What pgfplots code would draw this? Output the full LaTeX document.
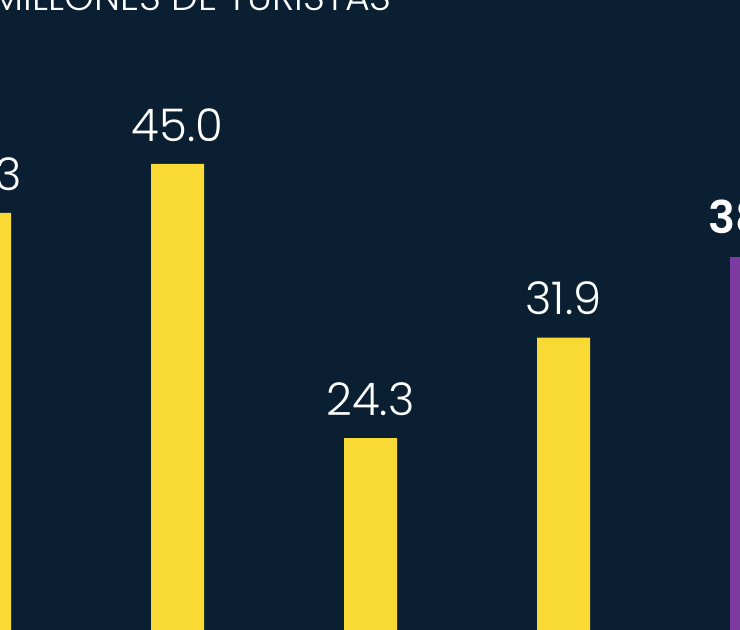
\documentclass[border=0pt]{standalone}
\usepackage{fontspec}
\setmainfont{Poppins}[UprightFont=* Light, BoldFont=* SemiBold]
\usepackage{pgfplots}
\pgfplotsset{compat=1.18}
\definecolor{bg}{HTML}{0B1F33}
\definecolor{barY}{HTML}{F9D933}
\definecolor{barP}{HTML}{7D3AA0}
\begin{document}
\begin{tikzpicture}
 \path[use as bounding box] (0,0) rectangle (370pt,315pt);
 \clip (0,0) rectangle (370pt,315pt);
 \fill[bg] (0,0) rectangle (370pt,315pt);
 \begin{axis}[
  at={(0,0)}, anchor=south west,
  scale only axis,
  width=370pt, height=315pt,
  hide axis,
  clip=false,
  xmin=0.0803, xmax=3.9145,
  ymin=9.83, ymax=57.37,
  ybar, bar width=26.5pt, bar shift=0pt,
  nodes near coords,
  /pgf/number format/.cd, fixed, fixed zerofill, precision=1, assume math mode=true,
  /pgfplots/.cd,
  every node near coord/.append style={
   anchor=south, inner sep=0pt, yshift=11pt,
   font=\fontsize{22.5}{25}\selectfont, text=white}]
  \addplot[draw=none, fill=barY] coordinates {
   (0, 41.3)
   (1, 45.0)
   (2, 24.3)
   (3, 31.9)};
  \addplot[draw=none, fill=barP,
   every node near coord/.append style={font=\fontsize{22.5}{25}\selectfont\bfseries}]
   coordinates {(4, 38.0)};
  \node[anchor=base west, inner sep=0pt, text=white,
   font=\fontsize{19}{22}\selectfont]
   at (rel axis cs:-0.012,0.9835) {MILLONES DE TURISTAS};
 \end{axis}
\end{tikzpicture}
\end{document}
